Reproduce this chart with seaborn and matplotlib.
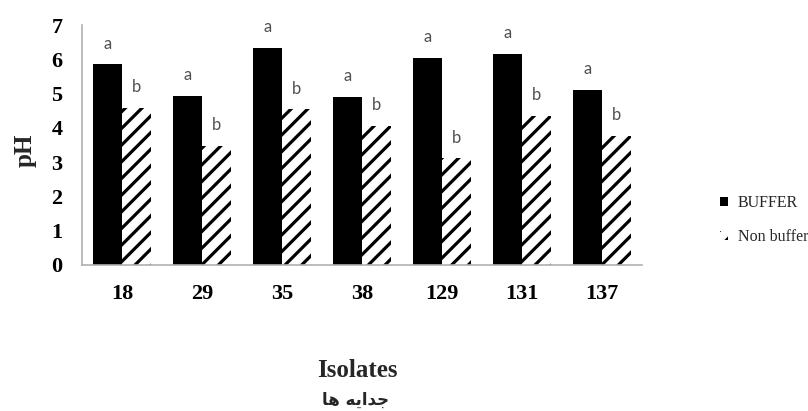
import matplotlib
matplotlib.use("Agg")
import matplotlib.pyplot as plt
import seaborn as sns
import pandas as pd

# pH of culture media per isolate, buffered vs non-buffered
isolates = ["18", "29", "35", "38", "129", "131", "137"]
buffer_ph = [5.85, 4.93, 6.32, 4.91, 6.03, 6.15, 5.10]
non_buffer_ph = [4.59, 3.47, 4.54, 4.05, 3.11, 4.34, 3.76]
buffer_letters = ["a"] * 7
non_buffer_letters = ["b"] * 7
series = ["BUFFER", "Non buffer"]
y_ticks = [0, 1, 2, 3, 4, 5, 6, 7]

df = pd.DataFrame({
    "isolate": isolates * 2,
    "pH": buffer_ph + non_buffer_ph,
    "medium": [series[0]] * len(isolates) + [series[1]] * len(isolates),
    "letter": buffer_letters + non_buffer_letters,
})

sns.set_theme(style="white")
plt.rcParams["hatch.linewidth"] = 2.3

W, H = 808, 411
fig = plt.figure(figsize=(W / 100, H / 100), dpi=100)
ax = fig.add_axes([82 / W, 1 - 265 / H, (642 - 82) / W, (265 - 25) / H])

sns.barplot(data=df, x="isolate", y="pH", hue="medium", order=isolates,
            hue_order=series, palette=["black", "white"], width=0.73,
            gap=0, errorbar=None, legend=False, ax=ax)

# style the bars: solid black for buffered, diagonal hatching for non-buffered
n = len(isolates)
bars = ax.patches[: 2 * n]
for i, bar in enumerate(bars):
    bar.set_linewidth(0)
    bar.set_edgecolor("black")
    if i >= n:
        bar.set_facecolor("white")
        bar.set_hatch("//")

# significance letters above each bar
for bar, letter in zip(bars, buffer_letters + non_buffer_letters):
    ax.annotate(letter, (bar.get_x() + bar.get_width() / 2, bar.get_height()),
                xytext=(0, 15), textcoords="offset points", ha="center",
                va="center", fontsize=12, color="#505050", family="Lato")

ax.set_ylim(0, 7)
ax.set_xlim(-0.5, len(isolates) - 0.5)
ax.set_yticks(y_ticks)
ax.set_xlabel("")
ax.set_ylabel("")
for s in ["top", "right"]:
    ax.spines[s].set_visible(False)
for s in ["left", "bottom"]:
    ax.spines[s].set_color("#b0b0b0")
    ax.spines[s].set_linewidth(1.2)
ax.tick_params(axis="both", length=0)
ax.tick_params(axis="y", pad=14)
ax.tick_params(axis="x", pad=14)
for lab in ax.get_xticklabels() + ax.get_yticklabels():
    lab.set_fontfamily("Liberation Serif")
    lab.set_fontweight("bold")
    lab.set_fontsize(16)
    lab.set_color("black")

fig.text(25 / W, 1 - 150 / H, "pH", rotation=90, ha="center", va="center",
         fontsize=18, fontweight="bold", family="Liberation Serif")
fig.text(357 / W, 1 - 377 / H, "Isolates", ha="center", va="baseline",
         fontsize=18, fontweight="bold", family="Liberation Serif")
# Persian subtitle written in shaped presentation forms, visual order
fig.text(356 / W, 1 - 400 / H, "\ufe8e\ufeeb \ufeea\ufbfe\u0627\ufeaa\ufe9f",
         ha="center", va="center", fontsize=12, fontweight="bold",
         family="DejaVu Sans")

fig.legend(handles=[bars[0], bars[n]], labels=series, loc="center left",
           bbox_to_anchor=(712 / W, 1 - 220 / H), frameon=False,
           prop={"family": "Liberation Serif", "size": 11.5},
           handlelength=0.5, handleheight=0.5, handletextpad=0.6,
           labelspacing=1.1, borderpad=0)

fig.savefig("out.png", dpi=100)
